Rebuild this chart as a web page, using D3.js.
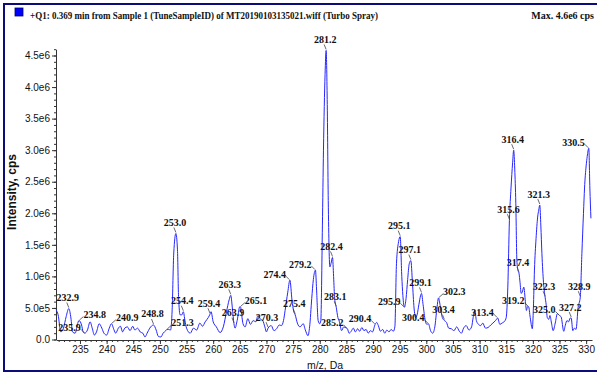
<!DOCTYPE html>
<html><head><meta charset="utf-8">
<script src="https://cdn.jsdelivr.net/npm/d3@7/dist/d3.min.js"></script>
<style>body{margin:0;background:#fff;} svg{display:block;}</style>
</head><body><svg id="c" width="597" height="374"></svg>
<script>
// ---------- data ----------
const titleText = "+Q1: 0.369 min from Sample 1 (TuneSampleID) of MT20190103135021.wiff (Turbo Spray)";
const maxText = "Max. 4.6e6 cps";
const xTitle = "m/z, Da";
const yTitle = "Intensity, cps";

// spectrum trace: m/z and intensity (x 1e5 cps)
const mzValues = [
230.5,230.9,231.4,231.9,232.4,232.9,233.3,233.6,234.1,234.5,234.8,235.3,235.6,235.9,236.4,236.9,237.3,237.7,238.1,238.6,
239.1,239.5,240.0,240.5,240.9,241.4,241.7,242.2,242.6,243.0,243.4,243.9,244.4,244.9,245.3,245.8,246.3,246.8,247.2,247.6,
248.1,248.8,249.3,249.7,250.2,250.6,251.1,251.3,251.6,252.0,252.3,252.6,253.0,253.3,253.5,253.8,254.1,254.4,254.7,255.0,
255.7,256.3,256.9,257.5,258.0,258.5,259.1,259.4,259.6,260.0,260.6,261.3,261.9,262.5,263.0,263.3,263.6,263.9,264.1,264.5,
265.0,265.1,265.6,266.0,266.5,267.0,267.5,268.0,268.4,268.9,269.3,269.7,270.0,270.3,270.9,271.4,271.9,272.4,272.8,273.2,
273.5,274.0,274.4,274.8,275.1,275.4,275.8,276.3,276.9,277.3,277.8,278.1,278.5,278.8,279.2,279.4,279.7,280.0,280.2,280.5,
280.7,281.0,281.2,281.4,281.6,281.9,282.1,282.4,282.6,282.8,283.1,283.4,283.7,284.1,284.5,285.0,285.2,285.5,285.9,286.3,
286.7,287.1,287.5,287.9,288.3,288.7,289.1,289.5,289.9,290.4,290.7,291.0,291.4,291.8,292.2,292.6,293.0,293.4,293.8,294.1,
294.4,294.8,295.1,295.4,295.6,295.9,296.2,296.5,296.8,297.1,297.4,297.7,298.0,298.3,298.6,299.1,299.4,299.8,300.1,300.4,
300.8,301.2,301.6,302.0,302.3,302.6,303.0,303.4,303.8,304.2,304.7,305.2,305.7,306.2,306.6,307.0,307.5,308.0,308.5,308.8,
309.1,309.4,309.7,310.2,310.6,311.1,311.6,312.1,312.5,313.0,313.4,313.8,314.2,314.7,315.0,315.3,315.6,315.9,316.2,316.4,
316.6,316.8,317.0,317.2,317.4,317.6,317.8,318.0,318.3,318.6,318.8,319.0,319.2,319.5,319.9,320.1,320.3,320.6,320.9,321.1,
321.3,321.5,321.7,322.0,322.3,322.5,322.7,323.0,323.2,323.5,323.8,324.2,324.6,325.0,325.3,325.8,326.1,326.4,326.7,327.0,
327.2,327.5,327.8,328.1,328.5,328.9,329.2,329.5,329.7,330.0,330.2,330.5,330.7,330.9
];
const intensityE5 = [
4.7,3.9,1.2,1.8,3.6,4.9,3.4,1.2,1.0,2.3,3.0,2.3,1.2,1.0,1.5,2.8,1.8,0.7,1.2,2.5,
1.8,1.0,0.7,1.8,2.5,1.5,1.0,1.8,2.1,1.2,1.8,2.0,1.4,2.1,1.5,1.8,1.2,1.0,0.4,1.0,
1.8,2.3,1.5,0.5,0.4,1.0,1.4,1.6,1.6,1.5,4.7,13.7,16.8,14.2,6.8,3.9,3.9,4.4,3.0,1.8,
1.0,1.8,1.5,2.6,2.1,2.8,3.5,4.0,4.4,2.8,2.0,1.1,2.0,4.4,6.3,7.0,5.0,2.5,1.8,3.0,
5.2,5.2,2.5,2.0,3.3,2.4,3.0,2.8,3.8,3.2,3.0,2.0,1.2,1.8,2.2,1.4,1.7,2.3,2.2,3.0,
4.6,7.5,9.4,6.2,4.5,3.9,2.6,2.0,2.5,1.5,0.6,2.0,6.5,9.5,11.0,8.0,3.0,2.5,3.0,18.0,
30.0,42.0,45.8,38.0,22.0,11.5,12.0,13.0,10.0,6.5,5.1,3.5,2.8,1.4,2.0,1.8,1.7,1.0,1.3,1.8,
1.2,1.7,1.3,1.9,1.4,1.6,1.0,1.4,1.2,2.4,2.7,2.2,1.3,1.6,1.0,1.5,1.2,1.6,1.3,2.0,
12.0,15.5,16.3,10.0,7.0,5.1,6.5,9.5,12.0,12.5,9.0,5.0,3.5,4.0,5.5,7.3,5.5,3.0,2.4,2.5,
1.4,1.0,2.0,5.0,6.6,5.4,3.5,3.0,2.7,1.8,1.7,1.4,2.0,1.3,1.0,1.8,2.2,1.5,2.0,3.5,
4.6,3.0,2.5,2.2,2.6,1.8,1.9,2.3,2.6,3.0,3.4,2.4,2.6,2.9,3.5,8.3,18.9,24.0,28.0,30.0,
27.0,21.6,12.5,11.0,10.5,9.0,7.3,7.5,8.3,6.0,4.6,5.2,5.2,3.5,1.7,5.0,11.0,16.0,19.4,20.5,
21.3,18.0,13.6,9.0,6.7,5.5,3.5,3.2,3.8,2.6,1.4,2.6,4.1,3.8,3.6,1.3,2.3,3.0,2.8,3.4,
3.4,1.4,1.8,1.6,5.1,6.7,13.6,20.0,24.0,27.5,29.0,30.3,24.0,19.2
];

// annotated peaks
const peakMz = [232.9,235.9,234.8,240.9,248.8,251.3,253.0,254.4,259.4,263.3,263.9,265.1,270.3,274.4,275.4,279.2,281.2,282.4,283.1,285.2,
                290.4,295.1,295.9,297.1,299.1,300.4,302.3,303.4,313.4,315.6,316.4,317.4,319.2,321.3,322.3,325.0,327.2,328.9,330.5];
const peakSide = ["u","l","r","r","u","r","u","u","u","u","u","r","u","l","u","l","u","u","u","l",
                  "l","u","l","u","u","l","r","u","l","u","u","u","l","u","u","l","u","u","l"];

const xMajorTicks = [235,240,245,250,255,260,265,270,275,280,285,290,295,300,305,310,315,320,325,330];
const xMinorTicks = d3.range(231, 331, 1);
const yMajorTicks = [0,5e5,1e6,1.5e6,2e6,2.5e6,3e6,3.5e6,4e6,4.5e6];
const yTickLabels = ["0.0","5.0e5","1.0e6","1.5e6","2.0e6","2.5e6","3.0e6","3.5e6","4.0e6","4.5e6"];
const yMinorTicks = d3.range(0, 4.6e6+1, 1e5);

// ---------- drawing ----------
const svg = d3.select("#c");
const sans = "'Liberation Sans', Arial, sans-serif";
const serif = "'Liberation Serif', 'Times New Roman', serif";

svg.append("rect").attr("x",0).attr("y",0).attr("width",597).attr("height",374).attr("fill","#fff");
// outer frame
svg.append("rect").attr("x",4).attr("y",4).attr("width",640).attr("height",367)
  .attr("fill","none").attr("stroke","#0b0b7a").attr("stroke-width",2);

// header
svg.append("rect").attr("x",15).attr("y",8).attr("width",8).attr("height",8)
  .attr("fill","#0000ff").attr("stroke","#00006a").attr("stroke-width",0.8);
svg.append("text").attr("x",30).attr("y",19).text(titleText)
  .attr("font-family",serif).attr("font-size",10).attr("font-weight","bold").attr("fill","#111")
  .attr("textLength",348).attr("lengthAdjust","spacingAndGlyphs");
svg.append("text").attr("x",594).attr("y",19).attr("text-anchor","end").text(maxText)
  .attr("font-family",serif).attr("font-size",10).attr("font-weight","bold").attr("fill","#111");

const x = d3.scaleLinear().domain([230.5, 331.1]).range([56, 592]);
const y = d3.scaleLinear().domain([0, 4.6e6]).range([339.5, 49.2]);

// x axis
const gx = svg.append("g").attr("transform","translate(0,340)");
gx.call(d3.axisBottom(x).tickValues(xMinorTicks).tickSize(2).tickSizeOuter(0).tickFormat(""));
const gx2 = svg.append("g").attr("transform","translate(0,340)");
gx2.call(d3.axisBottom(x).tickValues(xMajorTicks).tickSize(4).tickSizeOuter(0).tickPadding(2).tickFormat(d3.format("d")));
gx2.select(".domain").remove();
[gx, gx2].forEach(g=>{
  g.selectAll("path,line").attr("stroke","#333");
  g.selectAll("text").attr("font-family",sans).attr("font-size",10).attr("fill","#111");
});

// y axis
const gy = svg.append("g").attr("transform","translate(56,0)");
gy.call(d3.axisLeft(y).tickValues(yMinorTicks).tickSize(2).tickSizeOuter(0).tickFormat(""));
const gy2 = svg.append("g").attr("transform","translate(56,0)");
gy2.call(d3.axisLeft(y).tickValues(yMajorTicks).tickSize(4).tickSizeOuter(0).tickPadding(2)
  .tickFormat((d,i)=>yTickLabels[i]));
gy2.select(".domain").remove();
[gy, gy2].forEach(g=>{
  g.selectAll("path,line").attr("stroke","#333");
  g.selectAll("text").attr("font-family",sans).attr("font-size",10).attr("fill","#111");
});

// axis titles
svg.append("text").attr("x",325).attr("y",369).attr("text-anchor","middle").text(xTitle)
  .attr("font-family",sans).attr("font-size",10.5).attr("fill","#111");
svg.append("text").attr("transform","translate(16,192) rotate(-90)").attr("text-anchor","middle").text(yTitle)
  .attr("font-family",sans).attr("font-size",12).attr("font-weight","bold").attr("fill","#111");

// trace
const pts = mzValues.map((m,i)=>[m, intensityE5[i]*1e5]);
const line = d3.line().x(d=>x(d[0])).y(d=>y(d[1])).curve(d3.curveMonotoneX);
svg.append("path").datum(pts).attr("d",line).attr("fill","none")
  .attr("stroke","#2626ff").attr("stroke-width",1).attr("stroke-linejoin","round");

// peak labels
const bis = d3.bisector(d=>d[0]).left;
function intensityAt(m){
  const i = Math.max(1, Math.min(pts.length-1, bis(pts, m)));
  const a = pts[i-1], b = pts[i];
  const t = (m - a[0])/(b[0]-a[0]);
  return a[1] + (b[1]-a[1])*Math.max(0,Math.min(1,t));
}
const gl = svg.append("g");
peakMz.forEach((m,i)=>{
  const px = x(m), py = y(intensityAt(m));
  const side = peakSide[i];
  let tx, ty, anchor, l;
  if(side==="u"){ tx=px-1; ty=py-7.5; anchor="middle"; l=[px-2,py-6,px,py-1]; }
  else if(side==="l"){ tx=px-4; ty=py-2.5; anchor="end"; l=[px-4,py-4,px-0.5,py-0.5]; }
  else { tx=px+4.5; ty=py-3; anchor="start"; l=[px+4.5,py-4,px+0.5,py-0.5]; }
  gl.append("line").attr("x1",l[0]).attr("y1",l[1]).attr("x2",l[2]).attr("y2",l[3])
    .attr("stroke","#444").attr("stroke-width",0.8);
  gl.append("text").attr("x",tx).attr("y",ty).attr("text-anchor",anchor).text(m.toFixed(1))
    .attr("font-family",serif).attr("font-size",10).attr("font-weight","bold").attr("fill","#111");
});
</script></body></html>
